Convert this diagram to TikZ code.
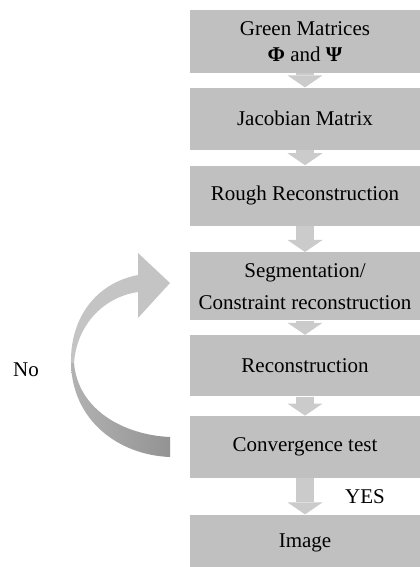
\documentclass[tikz,border=0pt]{standalone}
\usepackage{fontspec}
\setmainfont{Liberation Serif}
\usetikzlibrary{arrows.meta,positioning}
\definecolor{boxgray}{HTML}{C0C0C0}
\definecolor{arrowgray}{HTML}{CBCBCB}
\definecolor{looplight}{HTML}{C4C4C4}
\definecolor{loopmid}{HTML}{B2B2B2}
\definecolor{loopdark}{HTML}{939393}
\tikzset{
  stepbox/.style={fill=boxgray,minimum width=115bp,minimum height=31bp,inner sep=2bp,
    align=center,font=\fontsize{10.5bp}{13bp}\selectfont},
  flow/.style={-{Triangle[width=17.5bp,length=6bp,line width=0pt]},line width=9bp,draw=arrowgray},
  sidetext/.style={font=\fontsize{10.5bp}{13bp}\selectfont,inner sep=0pt}
}

\begin{document}
\begin{tikzpicture}[x=0.5bp,y=-0.5bp]
  \useasboundingbox (0,0) rectangle (420,567);
  \node[stepbox,minimum height=31.5bp] (green) at (305,41.5) {Green Matrices\\\textbf{Φ} and \textbf{Ψ}};
  \node[stepbox,below=7bp of green] (jacobian) {Jacobian Matrix};
  \node[stepbox,minimum height=30bp,below=7.5bp of jacobian] (rough) {Rough Reconstruction};
  \node[stepbox,minimum height=34bp,below=13bp of rough] (segment) {Segmentation/\\[3bp]Constraint reconstruction};
  \node[stepbox,minimum height=30.5bp,below=7bp of segment] (recon) {Reconstruction};
  \node[stepbox,below=9.5bp of recon] (converge) {Convergence test};
  \node[stepbox,minimum height=28.5bp,below=18bp of converge] (image) {Image};
  \draw[flow] (green) -- (jacobian);
  \draw[flow] (jacobian) -- (rough);
  \draw[flow] (rough) -- (segment);
  \draw[flow] (segment) -- (recon);
  \draw[flow] (recon) -- (converge);
  \draw[flow] (converge) -- (image);
  \node[sidetext] (yes) at (365,497) {YES};
  \node[sidetext] (no) at (26,370) {No};
  % loop back from the convergence test
  \fill[looplight] (71,363) .. controls (70,318) and (96,283) .. (138,275)
    -- (138,253) -- (170,283) -- (138,318) -- (138,292)
    .. controls (104,297) and (77,324) .. (74,363) -- cycle;
  \shade[left color=loopmid,right color=loopdark] (71,363) .. controls (72,420) and (118,455) .. (170,457)
    -- (170,437) .. controls (124,435) and (78,410) .. (74,363) -- cycle;
\end{tikzpicture}
\end{document}
